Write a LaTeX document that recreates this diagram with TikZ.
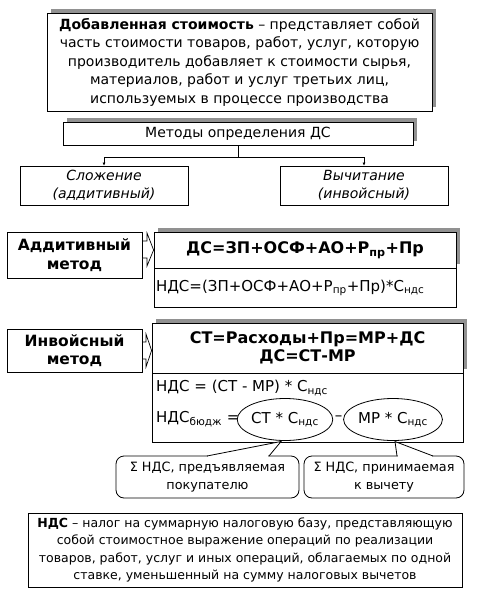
\documentclass[tikz,border=0pt]{standalone}
\usepackage{fontspec}
\setmainfont{DejaVu Sans}
\usetikzlibrary{shadows,shapes.geometric,arrows.meta}
\newcommand{\lsub}[1]{\textsubscript{#1}}
\begin{document}
\begin{tikzpicture}[x=1pt,y=-1pt,
  box/.style={draw=black, line width=0.8pt, fill=white, inner sep=1pt, align=center},
  shad/.style={general shadow={fill=black!43, shadow xshift=4pt, shadow yshift=4pt}},
  txt/.style={font=\fontsize{14}{18.5}\selectfont},
  big/.style={font=\fontsize{15.5}{18.5}\selectfont\bfseries},
  form/.style={font=\fontsize{15}{18}\selectfont},
  oval/.style={ellipse, draw=black, line width=0.8pt, inner sep=0pt, minimum width=88pt, minimum height=42pt},
  callout/.style={draw=black, line width=0.8pt, rounded corners=8pt, fill=white, align=center, font=\fontsize{12.8}{18}\selectfont},
  tip/.style={-{Latex[length=3pt,width=3pt]}},
  barrow/.style={draw=black, line width=0.7pt, fill=white}
]
\useasboundingbox (0,0) rectangle (477,591);

% top definition
\node[box, shad, txt, minimum width=385pt, minimum height=98pt] (def) at (239.5,62)
 {\textbf{Добавленная стоимость} – представляет собой\\часть стоимости товаров, работ, услуг, которую\\производитель добавляет к стоимости сырья,\\материалов, работ и услуг третьих лиц,\\используемых в процессе производства};

% methods
\node[box, shad, txt, minimum width=350pt, minimum height=23pt] (met) at (238,133.5) {Методы определения ДС};
\node[box, font=\fontsize{14}{18}\selectfont\itshape, minimum width=168pt, minimum height=39pt] (sl) at (104,185.5) {Сложение\\(аддитивный)};
\node[box, font=\fontsize{14}{18}\selectfont\itshape, minimum width=168pt, minimum height=39pt] (vy) at (364,185.5) {Вычитание\\(инвойсный)};
\coordinate (j) at (238,157);
\draw[line width=0.6pt] (met.south) -- (j);
\draw[line width=0.6pt, tip] (j) -| (sl.north);
\draw[line width=0.6pt, tip] (j) -| (vy.north);

% additive method
\node[box, big, minimum width=135pt, minimum height=46pt] (am) at (74.5,255) {Аддитивный\\метод};
\node[box, shad, font=\fontsize{16}{18}\selectfont\bfseries, minimum width=302pt, minimum height=36pt] (a1) at (305,250) {ДС=ЗП+ОСФ+АО+Р\lsub{пр}+Пр};
\node[box, form, minimum width=302pt, minimum height=39pt, anchor=north west, text width=298pt, align=left] (a2) at (a1.south west) {НДС=(ЗП+ОСФ+АО+Р\lsub{пр}+Пр)*С\lsub{ндс}};
\path[barrow] (am.east |- 0,241) -- (147,241) -- (147,233) -- (a1.west) -- (147,266) -- (147,258) -- (am.east |- 0,258) -- cycle;

% invoice method
\node[box, big, minimum width=135pt, minimum height=43pt] (im) at (74.5,350.5) {Инвойсный\\метод};
\node[box, shad, font=\fontsize{16}{18.5}\selectfont\bfseries, minimum width=311pt, minimum height=50pt] (i1) at (307.5,348) {СТ=Расходы+Пр=МР+ДС\\ДС=СТ-МР};
\node[box, minimum width=311pt, minimum height=69pt, anchor=north west] (i2) at (i1.south west) {};
\path[barrow] (im.east |- 0,342) -- (146,342) -- (146,334) -- (i1.west |- im.east) -- (146,367) -- (146,359) -- (im.east |- 0,359) -- cycle;
\node[form, anchor=west, inner sep=0pt] (l1) at (156,388) {НДС = (СТ - МР) * С\lsub{ндс}};
\node[form, anchor=west, inner sep=0pt] (l2) at (156,419) {НДС\lsub{бюдж} =};
\node[oval, form] (e1) at (285,419.5) {СТ * С\lsub{ндс}};
\node[form] (mn) at (338.5,418) {–};
\node[oval, form, minimum width=87pt] (e2) at (393,419.5) {МР * С\lsub{ндс}};

% callouts
\node[callout, minimum width=183pt, minimum height=42pt] (c1) at (207.5,477) {Σ НДС, предъявляемая\\покупателю};
\node[callout, minimum width=160pt, minimum height=42pt] (c2) at (384,477) {Σ НДС, принимаемая\\к вычету};
\fill[white] (208,455) -- (281,441.5) -- (268,455) -- (268,457.5) -- (208,457.5) -- cycle;
\draw[line width=0.8pt] (207,456) -- (281,441.5) -- (269,456);
\fill[white] (398,455) -- (395,442) -- (432,455) -- (432,457.5) -- (398,457.5) -- cycle;
\draw[line width=0.8pt] (397,456) -- (395,441.5) -- (433,456);

% bottom definition
\node[box, font=\fontsize{12.5}{17.5}\selectfont, minimum width=434pt, minimum height=74pt] (nds) at (245,550)
 {\textbf{НДС} – налог на суммарную налоговую базу, представляющую\\собой стоимостное выражение операций по реализации\\товаров, работ, услуг и иных операций, облагаемых по одной\\ставке, уменьшенный на сумму налоговых вычетов};
\end{tikzpicture}
\end{document}
